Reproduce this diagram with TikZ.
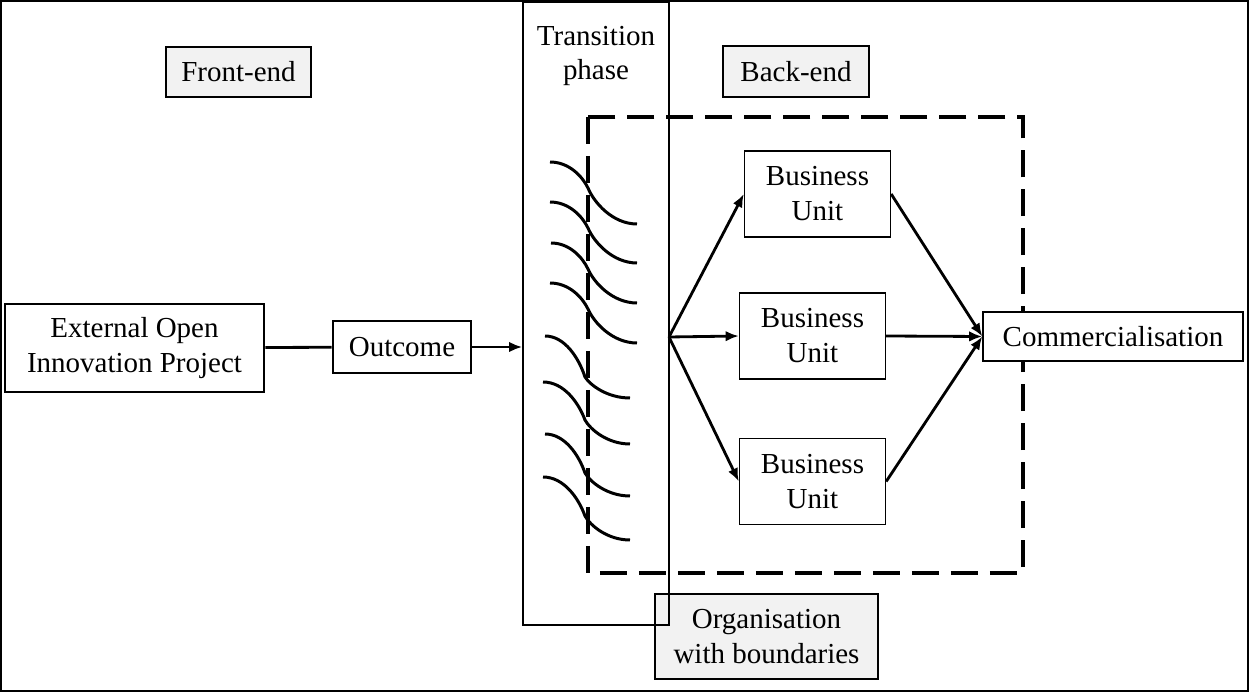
\documentclass[tikz,border=0pt]{standalone}
\usepackage{fontspec}
\setmainfont{Liberation Serif}
\usetikzlibrary{arrows.meta}
\definecolor{boxgray}{HTML}{F2F2F2}
\tikzset{
    >={Latex[length=7.5pt,width=6pt]},
    txt/.style={font=\fontsize{16.5}{19.9}\selectfont, align=center, inner sep=0pt},
    plainbox/.style={txt, draw, fill=white, line width=0.8pt},
    thickbox/.style={txt, draw, fill=white, line width=1.6pt},
    graybox/.style={plainbox, fill=boxgray},
    unitbox/.style={plainbox, minimum width=2.92cm, minimum height=1.72cm},
    link/.style={line width=1.6pt},
    dashbox/.style={line width=2pt, dash pattern=on 0.54cm off 0.24cm},
    curve/.style={line width=1.7pt}
}
\begin{document}
\begin{tikzpicture}[x=0.02cm, y=-0.02cm]
    \useasboundingbox (0,0) rectangle (1249,692);
    \draw[line width=1pt] (1,1) rectangle (1248,691);
    \node[graybox, minimum width=2.9cm, minimum height=1cm] (front) at (238.5,72) {Front-end};
    \node[graybox, minimum width=2.92cm, minimum height=1.02cm] (back) at (796,71.5) {Back-end};
    \draw[dashbox] (588,117) rectangle (1023,573);
    \foreach \sx/\sy/\mx/\my/\ex/\ey in {550/162/588/188/637/224, 550/202/588/228/637/263,
            551/243/588/269/637/303, 550/283/588/309/637/343, 545/336/585/377/630/398,
            543/382/585/420/630/444, 545/434/585/473/630/496, 543/477/585/516/630/540} {
        \draw[curve] (\sx,\sy) .. controls ({\sx+0.5*(\mx-\sx)},\sy) and ({\mx-0.15*(\mx-\sx)},{\my-0.45*(\my-\sy)}) .. (\mx,\my)
            .. controls ({\mx+0.12*(\ex-\mx)},{\my+0.4*(\ey-\my)}) and ({\ex-0.5*(\ex-\mx)},\ey) .. (\ex,\ey);
    }
    \node[thickbox, minimum width=5.18cm, minimum height=1.76cm] (ext) at (134.5,348) {External Open\\Innovation Project};
    \node[thickbox, minimum width=2.76cm, minimum height=1.04cm] (out) at (402,347) {Outcome};
    \node[unitbox] (bu1) at (817.5,194) {Business\\Unit};
    \node[unitbox] (bu2) at (812.5,336) {Business\\Unit};
    \node[unitbox] (bu3) at (812.5,481.5) {Business\\Unit};
    \node[plainbox, minimum width=5.2cm, minimum height=0.98cm] (com) at (1113,336.5) {Commercialisation};
    \node[graybox, minimum width=4.46cm, minimum height=1.7cm] (org) at (766.5,636.5) {Organisation\\with boundaries};
    \node[draw, line width=0.8pt, minimum width=2.92cm, minimum height=12.46cm, inner sep=0pt] (trans) at (596,313.5) {};
    \node[txt] (phase) at (596,56) {Transition\\phase};
    \coordinate (fan) at (669,337);
    \draw[link] (ext) -- (out);
    \draw[link,->] (out) -- (out -| trans.west);
    \draw[link,->] (fan) -- (bu1.west);
    \draw[link,->] (fan) -- (bu2.west);
    \draw[link,->] (fan) -- (bu3.west);
    \draw[link,->] (bu1.east) -- (com.west);
    \draw[link,->] (bu2.east) -- (com.west);
    \draw[link,->] (bu3.east) -- (com.west);
\end{tikzpicture}
\end{document}
